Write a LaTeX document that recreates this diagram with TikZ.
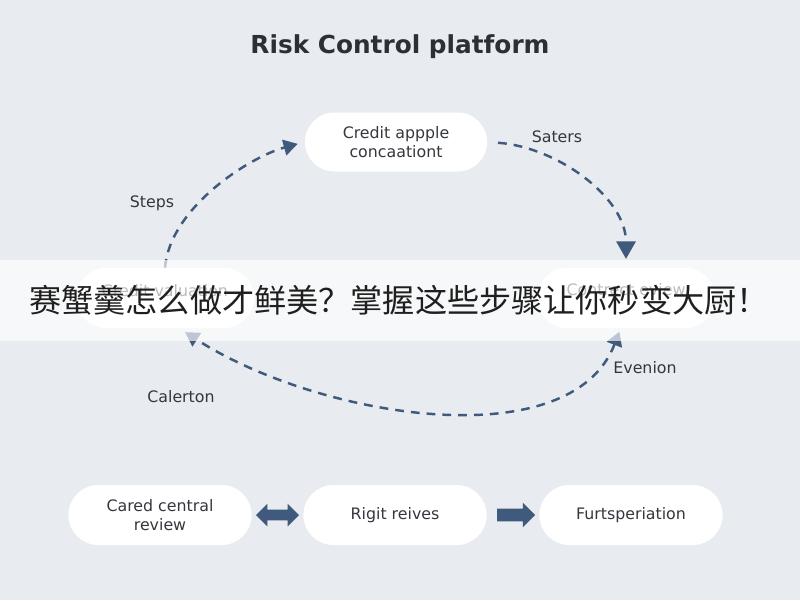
\documentclass[tikz,border=0pt]{standalone}
\usepackage{fontspec}
\setmainfont{DejaVu Sans}
\newfontfamily\cjk{Noto Sans CJK SC}
\usetikzlibrary{shapes.misc,shapes.arrows,arrows.meta,calc}
\definecolor{bgcol}{HTML}{E8EBEF}
\definecolor{linecol}{HTML}{3F5A7C}
\definecolor{txtcol}{HTML}{34383E}
\tikzset{
	pill/.style={rounded rectangle, fill=white, minimum width=3.9cm, minimum height=1.2cm, align=center, text=txtcol, font=\fontsize{9}{11}\selectfont},
	flow/.style={draw=linecol, line width=1.4pt, dash pattern=on 5pt off 4pt, -{Triangle[length=8pt,width=9pt]}},
	tag/.style={text=txtcol, font=\fontsize{9}{11}\selectfont},
	bigarrow/.style={fill=linecol, inner sep=0pt, minimum width=0pt}
}
\begin{document}
\begin{tikzpicture}[x=0.02cm, y=-0.02cm, line join=round, >=stealth]
	\def\W{800} \def\H{600}
	\def\bandtop{260} \def\bandbot{341}
	\fill[bgcol] (0,0) rectangle (\W,\H);
	\useasboundingbox (0,0) rectangle (\W,\H);
	\node[text=txtcol!85!black, font=\fontsize{14.1}{16}\selectfont\bfseries] (title) at (400,47) {Risk Control platform};
	% the cycle
	\node[pill, minimum width=3.88cm, minimum height=1.18cm] (ca) at (396,142) {Credit appple\\concaationt};
	\node[pill, minimum width=3.8cm] (lv) at (165,298) {\raisebox{8pt}{Credit valuation}};
	\node[pill, minimum width=3.8cm] (ce) at (626,298) {\raisebox{10pt}{Contrect eview}};
	\draw[flow, shorten >=4pt] (lv.north) .. controls +(5,-60) and +(-55,15) .. (ca.west);
	\draw[flow, shorten <=6pt, shorten >=5pt, -{Triangle[length=10pt,width=11pt]}] (ca.east) .. controls +(70,5) and +(0,-70) .. (ce.north);
	\draw[flow, {Triangle[length=8pt,width=9pt]}-{Triangle[length=8pt,width=9pt]}, shorten <=2pt, shorten >=4pt]
		(ce.-100) .. controls +(-50,130) and +(140,90) .. (lv.-65);
	\node[tag] (steps) at (152,203) {Steps};
	\node[tag] (saters) at (557,137) {Saters};
	\node[tag] (calerton) at (181,397) {Calerton};
	\node[tag] (evenion) at (645,368) {Evenion};
	% bottom row
	\node[pill] (b1) at (160,515) {Cared central\\review};
	\node[pill] (b2) at (395,515) {Rigit reives};
	\node[pill] (b3) at (631,515) {Furtsperiation};
	\node[bigarrow, double arrow, minimum height=0.86cm, inner ysep=0.1cm, double arrow head extend=0.12cm] (dbl) at ($(b1.east)!0.5!(b2.west)$) {};
	\node[bigarrow, single arrow, minimum height=0.76cm, inner ysep=0.12cm, single arrow head extend=0.12cm] (sgl) at ($(b2.east)!0.5!(b3.west)$) {};
	% banner over the middle
	\fill[white, opacity=0.66] (0,\bandtop) rectangle (\W,\bandbot);
	\node[text=black!88, font=\cjk\fontsize{18.3}{21}\selectfont] (banner) at (399,300) {赛蟹羹怎么做才鲜美？掌握这些步骤让你秒变大厨！};
\end{tikzpicture}
\end{document}
